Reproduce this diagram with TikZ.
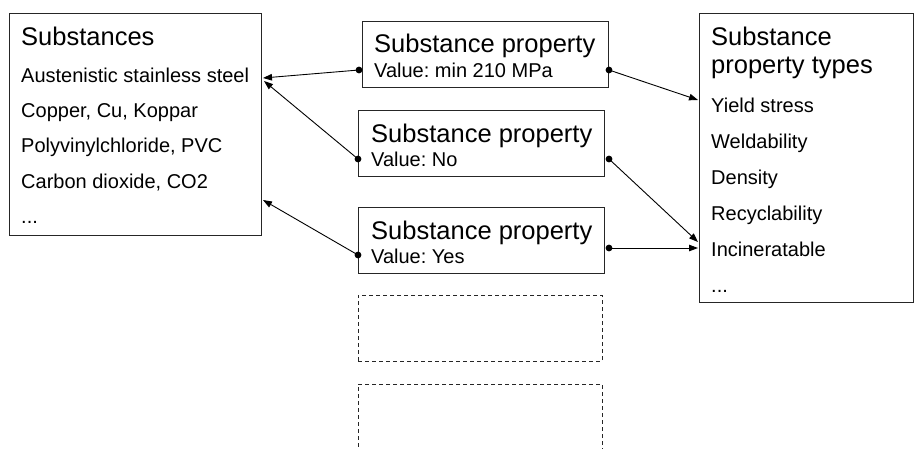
\documentclass[tikz,border=0pt]{standalone}
\usepackage{fontspec}
\setmainfont{Liberation Sans}
\usetikzlibrary{arrows.meta}
\frenchspacing
\begin{document}
\begin{tikzpicture}[x=1pt,y=-1pt,
  box/.style={draw=black!85, line width=0.9pt, anchor=north west, inner sep=0pt, outer sep=0pt},
  ghost/.style={box, dash pattern=on 4pt off 3pt},
  big/.style={anchor=base west, inner sep=0pt, font=\fontsize{25.5}{28}\selectfont},
  item/.style={anchor=base west, inner sep=0pt, font=\fontsize{20}{22}\selectfont},
  link/.style={line width=0.9pt, -{Triangle[length=9pt,width=6.5pt]}},
  dot/.style={fill=black},
]
\useasboundingbox (0,0) rectangle (915,448);
\clip (0,0) rectangle (915,448);

% entity boxes
\node[box, minimum width=252, minimum height=222] (sub) at (9,13) {};
\node[box, minimum width=246, minimum height=66] (p1) at (362,21) {};
\node[box, minimum width=246, minimum height=66] (p2) at (358,110) {};
\node[box, minimum width=246, minimum height=66] (p3) at (358,207) {};
\node[ghost, minimum width=244, minimum height=66] (p4) at (358,295) {};
\node[ghost, minimum width=244, minimum height=90] (p5) at (358,384) {};
\node[box, minimum width=214, minimum height=289] (typ) at (699,13) {};

% substances
\node[big] (subt) at (21,45) {Substances};
\node[item] (s1) at (21,82) {Austenistic stainless steel};
\node[item] (s2) at (21,117) {Copper, Cu, Koppar};
\node[item] (s3) at (21,152) {Polyvinylchloride, PVC};
\node[item] (s4) at (21,188) {Carbon dioxide, CO2};
\node[item] (s5) at (21,223) {...};

% substance properties
\node[big] (p1t) at (374,52) {Substance property};
\node[item] (p1v) at (374,77) {Value: min 210 MPa};
\node[big] (p2t) at (371,142) {Substance property};
\node[item] (p2v) at (371,166) {Value: No};
\node[big] (p3t) at (371,239) {Substance property};
\node[item] (p3v) at (371,263) {Value: Yes};

% property types
\node[big] (typt1) at (711,45) {Substance};
\node[big] (typt2) at (711,73) {property types};
\node[item] (t1) at (711,112) {Yield stress};
\node[item] (t2) at (711,148) {Weldability};
\node[item] (t3) at (711,184) {Density};
\node[item] (t4) at (711,220) {Recyclability};
\node[item] (t5) at (711,256) {Incineratable};
\node[item] (t6) at (711,292) {...};

% connector end points
\coordinate (p1w) at (359,70);
\coordinate (p2w) at (358,159);
\coordinate (p3w) at (358,255);
\coordinate (p1e) at (609,70);
\coordinate (p2e) at (609,159);
\coordinate (p3e) at (609,248);
\coordinate (sa) at (263,78);
\coordinate (sb) at (264,81);
\coordinate (sc) at (263,200);
\coordinate (ta) at (698,100);
\coordinate (tb) at (698,242);
\coordinate (tc) at (698,248);

% links
\draw[link] (p1w) -- (sa);
\draw[link] (p2w) -- (sb);
\draw[link] (p3w) -- (sc);
\draw[link] (p1e) -- (ta);
\draw[link] (p2e) -- (tb);
\draw[link] (p3e) -- (tc);
\foreach \c in {p1w,p2w,p3w,p1e,p2e,p3e} \fill[dot] (\c) circle (3.4pt);
\end{tikzpicture}
\end{document}
